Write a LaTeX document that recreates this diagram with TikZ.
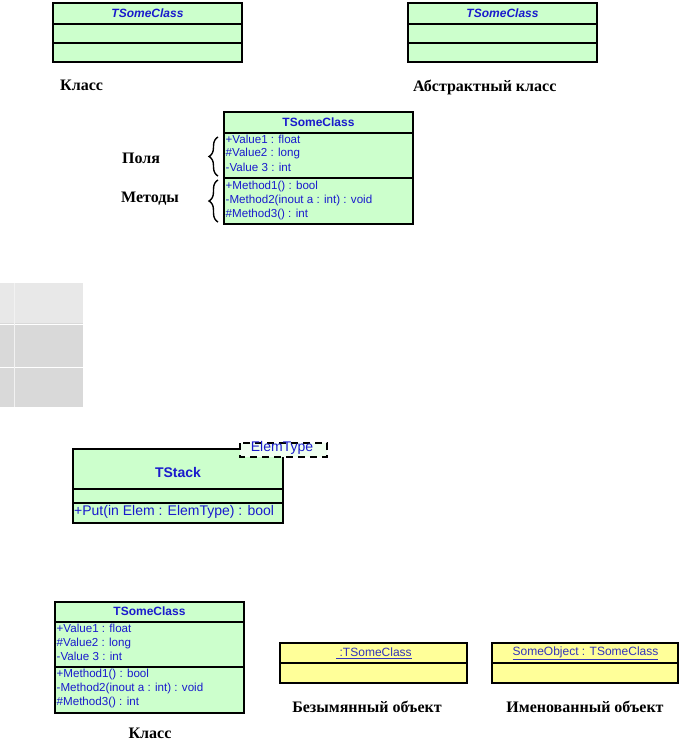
\documentclass[tikz,border=0pt]{standalone}
\usepackage{fontspec}
\setmainfont{Liberation Serif}
\setsansfont{Liberation Sans}
\usetikzlibrary{decorations.pathreplacing}
\definecolor{classgreen}{HTML}{CCFFCC}
\definecolor{objyellow}{HTML}{FFFF99}
\definecolor{umlblue}{HTML}{1A1ACC}
\definecolor{objblue}{HTML}{3333BB}
\tikzset{
  classbox/.style={draw=black,fill=classgreen,line width=2pt},
  objbox/.style={draw=black,fill=objyellow,line width=2.6pt},
  member/.style={anchor=west,inner sep=0pt,text=umlblue,text height=8pt,text depth=2pt,
    font=\sffamily\fontsize{11.6}{14}\selectfont},
  bigmember/.style={member,font=\sffamily\fontsize{14}{16}\selectfont},
  title/.style={inner sep=0pt,text=umlblue,font=\sffamily\bfseries\fontsize{12}{14}\selectfont},
  abstitle/.style={title,font=\sffamily\bfseries\itshape\fontsize{12}{14}\selectfont},
  objtitle/.style={inner sep=0pt,text=objblue,font=\sffamily\fontsize{12}{14}\selectfont},
  caption/.style={inner sep=0pt,text height=10.6pt,text depth=0pt,font=\bfseries\fontsize{16}{19}\selectfont},
  brace/.style={decorate,decoration={brace,amplitude=9pt},line width=1.4pt}
}
\begin{document}
\begin{tikzpicture}[x=1pt,y=-1pt]
\useasboundingbox (0,0) rectangle (682,741);
% class and abstract class
\draw[classbox,line width=2.6pt] (53,3) rectangle (242,62);
\draw[line width=2.6pt] (53,24) -- (242,24) (53,43) -- (242,43);
\node[abstitle] (cls) at (147.5,13.5) {TSomeClass};
\node[caption,anchor=west] (capcls) at (60,85) {Класс};
\draw[classbox,line width=2.6pt] (408,3) rectangle (597,62);
\draw[line width=2.6pt] (408,24) -- (597,24) (408,43) -- (597,43);
\node[abstitle] (abscls) at (502.5,13.5) {TSomeClass};
\node[caption,anchor=west] (capabs) at (413,86) {Абстрактный класс};
% class with fields and methods
\draw[classbox] (224,112) rectangle (413,224);
\draw[line width=2pt] (224,133) -- (413,133) (224,178) -- (413,178);
\node[title] (full) at (318.5,122) {TSomeClass};
\node[member] (fa) at (225.5,140) {+Value1 : float};
\node[member] (fb) at (225.5,154) {\#Value2 : long};
\node[member] (fc) at (225.5,168) {-Value 3 : int};
\node[member] (ma) at (225.5,186) {+Method1() : bool};
\node[member] (mb) at (225.5,200) {-Method2(inout a : int) : void};
\node[member] (mc) at (225.5,214) {\#Method3() : int};
\draw[brace] (218,176) -- (218,137);
\draw[brace] (218,222) -- (218,180);
\node[caption,anchor=west] (capf) at (122,158) {Поля};
\node[caption,anchor=west] (capm) at (121,197) {Методы};
% grey area
\fill[black!9] (0,283) rectangle (83,323);
\fill[black!15] (0,323) rectangle (83,407);
\draw[white,line width=1pt] (0,324) -- (83,324) (0,367) -- (83,367);
\draw[black!5,line width=1pt] (14,283) -- (14,407);
% template class
\draw[classbox] (73,449) rectangle (283,523);
\draw[line width=2pt] (73,489) -- (283,489) (73,503) -- (283,503);
\node[title,font=\sffamily\bfseries\fontsize{14}{16}\selectfont] (stack) at (178,472) {TStack};
\node[bigmember] (put) at (74,512) {+Put(in Elem : ElemType) : bool};
\draw[line width=2pt,dash pattern=on 7pt off 5pt,fill=classgreen!30] (240,443) rectangle (327,457);
\node[inner sep=0pt,text=umlblue,font=\sffamily\fontsize{14}{16}\selectfont] (tpar) at (282,448) {ElemType};
% class and objects
\draw[classbox,line width=2.5pt] (55,602) rectangle (244,713);
\draw[line width=2.5pt] (55,622) -- (244,622) (55,667) -- (244,667);
\node[title] (cls2) at (149.5,611) {TSomeClass};
\node[member] (ga) at (56.5,629) {+Value1 : float};
\node[member] (gb) at (56.5,643) {\#Value2 : long};
\node[member] (gc) at (56.5,657.5) {-Value 3 : int};
\node[member] (na) at (56.5,674) {+Method1() : bool};
\node[member] (nb) at (56.5,688) {-Method2(inout a : int) : void};
\node[member] (nc) at (56.5,702) {\#Method3() : int};
\node[caption] (capcls2) at (150,733) {Класс};
\draw[objbox] (280,643) rectangle (467,683);
\draw[line width=2.6pt] (280,663) -- (467,663);
\node[objtitle] (anon) at (374,653) {\underline{\ :TSomeClass}};
\node[caption] (capanon) at (367,707) {Безымянный объект};
\draw[objbox] (492,643) rectangle (678,683);
\draw[line width=2.6pt] (492,663) -- (678,663);
\node[objtitle] (named) at (585.5,653) {\underline{SomeObject : TSomeClass}};
\node[caption] (capnamed) at (585,707) {Именованный объект};
\end{tikzpicture}
\end{document}
